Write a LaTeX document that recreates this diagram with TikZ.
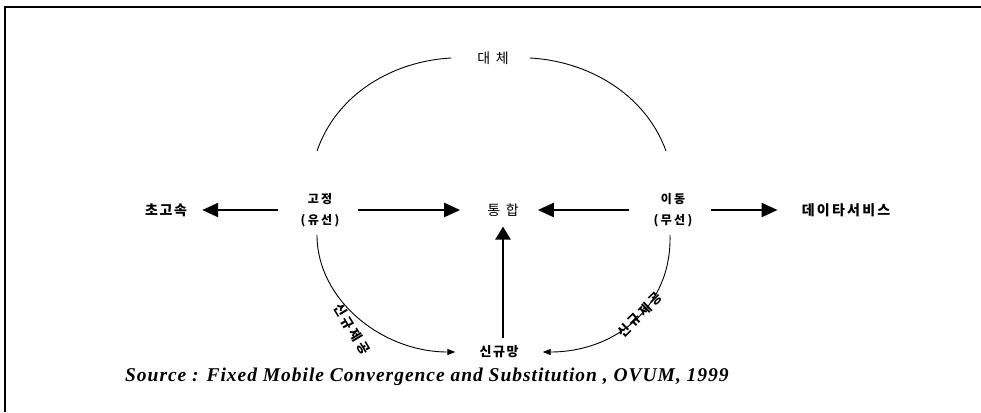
\documentclass[tikz,border=0pt]{standalone}
\usepackage{fontspec}
\usetikzlibrary{arrows.meta}
\setmainfont{Liberation Serif}
\newfontfamily\srcfont[LetterSpace=5]{Liberation Serif}
\newfontfamily\krwide[LetterSpace=12]{Noto Sans CJK KR}
\newfontfamily\krdata[LetterSpace=16]{Noto Sans CJK KR}
\newfontfamily\krmid[LetterSpace=20]{Noto Sans CJK KR}
\newfontfamily\krrot[LetterSpace=22]{Noto Sans CJK KR}
\newfontfamily\krthin[LetterSpace=40]{Noto Sans CJK KR}
\tikzset{
  txt/.style={inner sep=0pt, font=\krwide\bfseries\fontsize{14}{16}\selectfont},
  pair/.style={inner sep=0pt, align=center, font=\krmid\bfseries\fontsize{12}{21}\selectfont},
  light/.style={inner sep=0pt, font=\krthin\fontsize{14}{16}\selectfont},
  rot/.style={inner sep=0pt, font=\krrot\bfseries\fontsize{13}{15}\selectfont},
  bigarrow/.style={line width=2.2pt, -{Triangle[length=16pt,width=14pt]}},
  uparrow/.style={line width=2.6pt, -{Triangle[length=13pt,width=15pt]}},
  curve/.style={line width=0.9pt},
  curvearrow/.style={line width=0.9pt, -{Triangle[length=8pt,width=6pt]}}
}
\begin{document}
\begin{tikzpicture}[x=1pt,y=-1pt]
\useasboundingbox (0,0) rectangle (981,412);
\draw[line width=1.6pt] (5,412) -- (5,7) -- (981,7);

\node[light] (subst) at (493,58) {대체};
\node[txt] (fast) at (166,210) {초고속};
\node[pair] (fixed) at (320,210) {고정\\(유선)};
\node[light] (conv) at (503,210) {통합};
\node[pair] (mobile) at (673,210) {이동\\(무선)};
\node[txt, font=\krdata\bfseries\fontsize{14}{16}\selectfont] (data) at (846,210) {데이타서비스};
\node[txt, font=\krwide\bfseries\fontsize{13}{15}\selectfont] (new) at (499,352) {신규망};
\node[inner sep=0pt, anchor=west, font=\srcfont\fontsize{19.5}{22}\selectfont\bfseries\itshape] (src) at (125,377) {Source : Fixed Mobile Convergence and Substitution , OVUM, 1999};

\node[rot, rotate=-59] (lblL) at (352,329) {신규제공};
\node[rot, rotate=45] (lblR) at (640,315) {신규제공};

% horizontal arrows
\draw[bigarrow, shorten <=22pt, shorten >=15pt] (fixed.west) -- (fast.east);
\draw[bigarrow, shorten <=18pt, shorten >=27pt] (fixed.east) -- (conv.west);
\draw[bigarrow, shorten <=24pt, shorten >=19pt] (mobile.west) -- (conv.east);
\draw[bigarrow, shorten <=18pt, shorten >=24pt] (mobile.east) -- (data.west);
\draw[uparrow, shorten <=8pt, shorten >=10pt] (new.north -| conv.south) -- (conv.south);

% top arcs (substitution)
\draw[curve] ([xshift=-3pt,yshift=42pt]fixed.north) .. controls +(20,-58) and +(-57,3) .. ([xshift=-26pt]subst.west);
\draw[curve] ([xshift=21pt]subst.east) .. controls +(57,3) and +(-21,-58) .. ([xshift=-7pt,yshift=42pt]mobile.north);

% bottom arcs (new provision)
\draw[curvearrow] ([xshift=-3pt,yshift=-8pt]fixed.south) .. controls +(0,65) and +(-73,0) .. ([xshift=-24pt]new.west);
\draw[curvearrow] ([xshift=-3pt,yshift=-8pt]mobile.south) .. controls +(2,72) and +(72,0) .. ([xshift=24pt]new.east);
\end{tikzpicture}
\end{document}
